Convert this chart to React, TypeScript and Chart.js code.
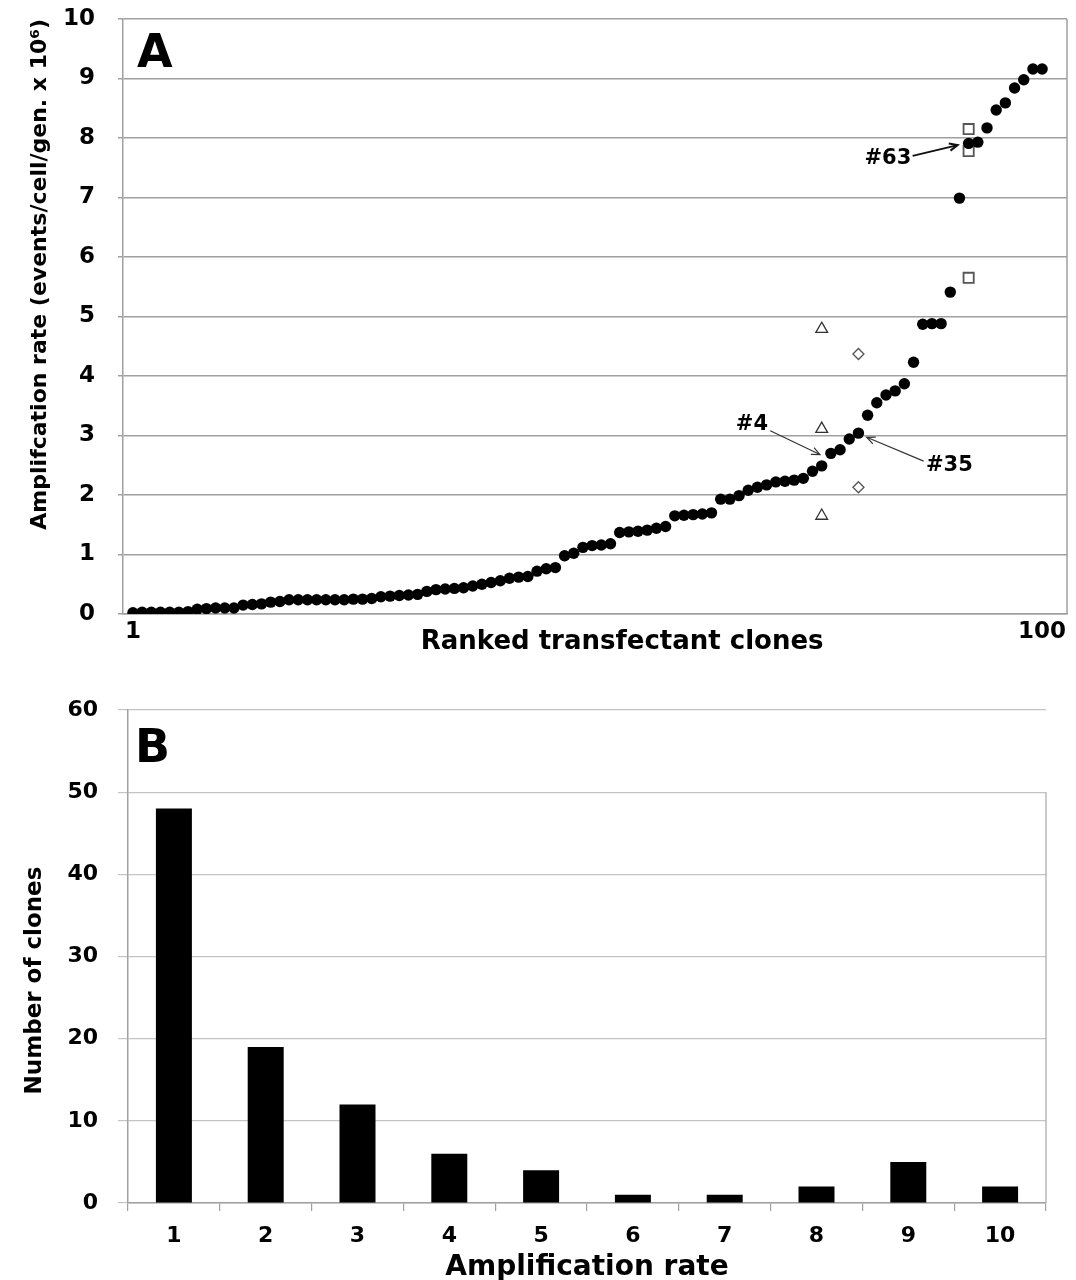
import React, { useEffect, useRef } from 'react';
import { Chart, registerables } from 'chart.js';

Chart.register(...registerables);

const FONT = "'DejaVu Sans', sans-serif";

// ---------- Panel A data ----------
// Amplification rate of the ranked transfectant clones (rank = index + 1)
const CLONE_RATES = [
  0.02, 0.03, 0.03, 0.03, 0.03, 0.03, 0.04, 0.08, 0.09, 0.10,
  0.10, 0.10, 0.15, 0.16, 0.17, 0.20, 0.21, 0.24, 0.24, 0.24,
  0.24, 0.24, 0.24, 0.24, 0.25, 0.25, 0.26, 0.29, 0.30, 0.31,
  0.32, 0.33, 0.38, 0.41, 0.42, 0.43, 0.44, 0.47, 0.50, 0.53,
  0.56, 0.60, 0.62, 0.63, 0.72, 0.76, 0.78, 0.98, 1.02, 1.12,
  1.15, 1.16, 1.18, 1.37, 1.38, 1.39, 1.41, 1.44, 1.47, 1.65,
  1.66, 1.67, 1.68, 1.70, 1.93, 1.93, 1.99, 2.08, 2.13, 2.17,
  2.22, 2.23, 2.25, 2.28, 2.40, 2.49, 2.70, 2.76, 2.94, 3.04,
  3.34, 3.55, 3.68, 3.75, 3.87, 4.23, 4.87, 4.88, 4.88, 5.41,
  6.99, 7.91, 7.93, 8.17, 8.47, 8.59, 8.84, 8.98, 9.16, 9.16,
];
const CLONE4_RANK = 76;
const CLONE4_REPLICATES = [4.79, 3.11, 1.65];
const CLONE35_RANK = 80;
const CLONE35_REPLICATES = [4.37, 2.13];
const CLONE63_RANK = 92;
const CLONE63_REPLICATES = [8.15, 7.78, 5.65];
const A_X_TICKS = [1, 100];
const A_Y_MIN = 0;
const A_Y_MAX = 10;

// ---------- Panel B data ----------
const B_BINS = ['1', '2', '3', '4', '5', '6', '7', '8', '9', '10'];
const B_COUNTS = [48, 19, 12, 6, 4, 1, 1, 2, 5, 2];
const B_Y_MAX = 60;

// callouts (in data units of panel A)
const A_CALLOUTS = [
  { label: '#4', lx: 68.4, ly: 3.18, x1: 70.4, y1: 3.08, x2: 75.8, y2: 2.68, lw: 1.2, color: '#333' },
  { label: '#35', lx: 89.9, ly: 2.5, x1: 87.1, y1: 2.57, x2: 80.9, y2: 2.97, lw: 1.2, color: '#333' },
  { label: '#63', lx: 83.2, ly: 7.66, x1: 85.9, y1: 7.7, x2: 90.8, y2: 7.88, lw: 2, color: '#111' },
];

function drawArrow(ctx: CanvasRenderingContext2D, x1: number, y1: number, x2: number, y2: number) {
  ctx.beginPath();
  ctx.moveTo(x1, y1);
  ctx.lineTo(x2, y2);
  ctx.stroke();
  const ang = Math.atan2(y2 - y1, x2 - x1);
  const L = 9;
  ctx.beginPath();
  ctx.moveTo(x2 - L * Math.cos(ang - 0.42), y2 - L * Math.sin(ang - 0.42));
  ctx.lineTo(x2, y2);
  ctx.lineTo(x2 - L * Math.cos(ang + 0.42), y2 - L * Math.sin(ang + 0.42));
  ctx.stroke();
}

const panelAPlugin = {
  id: 'panelADecor',
  afterDraw(chart: any) {
    const { ctx, chartArea, scales } = chart;
    ctx.save();
    // right frame line
    ctx.strokeStyle = '#a0a0a0';
    ctx.lineWidth = 1.5;
    ctx.beginPath();
    ctx.moveTo(chartArea.right, chartArea.top);
    ctx.lineTo(chartArea.right, chartArea.bottom);
    ctx.stroke();
    // panel letter
    ctx.fillStyle = '#000';
    ctx.font = `bold 46px ${FONT}`;
    ctx.textAlign = 'left';
    ctx.textBaseline = 'alphabetic';
    ctx.fillText('A', chartArea.left + 14, chartArea.top + 48);
    // callouts
    ctx.font = `bold 21px ${FONT}`;
    ctx.textAlign = 'center';
    ctx.textBaseline = 'middle';
    for (const c of A_CALLOUTS) {
      const sx = scales.x, sy = scales.y;
      ctx.fillStyle = '#000';
      ctx.fillText(c.label, sx.getPixelForValue(c.lx), sy.getPixelForValue(c.ly));
      ctx.strokeStyle = c.color;
      ctx.lineWidth = c.lw;
      drawArrow(
        ctx,
        sx.getPixelForValue(c.x1), sy.getPixelForValue(c.y1),
        sx.getPixelForValue(c.x2), sy.getPixelForValue(c.y2)
      );
    }
    ctx.restore();
  },
};

const panelBPlugin = {
  id: 'panelBDecor',
  afterDraw(chart: any) {
    const { ctx, chartArea, scales } = chart;
    ctx.save();
    ctx.strokeStyle = '#a8a8a8';
    ctx.lineWidth = 1.2;
    ctx.beginPath();
    ctx.moveTo(chartArea.right, scales.y.getPixelForValue(50));
    ctx.lineTo(chartArea.right, chartArea.bottom);
    ctx.stroke();
    ctx.fillStyle = '#000';
    ctx.font = `bold 46px ${FONT}`;
    ctx.textAlign = 'left';
    ctx.textBaseline = 'alphabetic';
    ctx.fillText('B', chartArea.left + 7, chartArea.top + 52);
    ctx.restore();
  },
};

export default function App() {
  const refA = useRef<HTMLCanvasElement>(null);
  const refB = useRef<HTMLCanvasElement>(null);

  useEffect(() => {
    const chartA = new Chart(refA.current as HTMLCanvasElement, {
      type: 'scatter',
      data: {
        datasets: [
          {
            data: CLONE_RATES.map((v, i) => ({ x: i + 1, y: v })),
            pointStyle: 'circle',
            pointRadius: 5.7,
            pointBackgroundColor: '#000',
            pointBorderColor: '#000',
            pointBorderWidth: 0,
          },
          {
            data: CLONE4_REPLICATES.map((v) => ({ x: CLONE4_RANK, y: v })),
            pointStyle: 'triangle',
            pointRadius: 6.8,
            pointBackgroundColor: 'rgba(255,255,255,0)',
            pointBorderColor: '#333',
            pointBorderWidth: 1.3,
          },
          {
            data: CLONE35_REPLICATES.map((v) => ({ x: CLONE35_RANK, y: v })),
            pointStyle: 'rectRot',
            pointRadius: 5.5,
            pointBackgroundColor: 'rgba(255,255,255,0)',
            pointBorderColor: '#555',
            pointBorderWidth: 1.3,
          },
          {
            data: CLONE63_REPLICATES.map((v) => ({ x: CLONE63_RANK, y: v })),
            pointStyle: 'rect',
            pointRadius: 7.2,
            pointBackgroundColor: 'rgba(255,255,255,0)',
            pointBorderColor: '#555',
            pointBorderWidth: 1.8,
          },
        ],
      },
      options: {
        animation: false,
        responsive: false,
        layout: { padding: { top: 19, right: 3, left: 0, bottom: 0 } },
        plugins: { legend: { display: false }, tooltip: { enabled: false } },
        scales: {
          x: {
            type: 'linear',
            min: -0.083,
            max: 102.71,
            afterBuildTicks: (s: any) => {
              s.ticks = A_X_TICKS.map((v) => ({ value: v }));
            },
            afterFit: (s: any) => {
              s.height = 46;
              s.paddingLeft = 0;
              s.paddingRight = 0;
            },
            grid: { display: false, drawTicks: false },
            border: { display: true, color: '#a0a0a0', width: 1.5 },
            ticks: {
              padding: 4,
              color: '#000',
              autoSkip: false,
              maxRotation: 0,
              font: { family: FONT, weight: 'bold', size: 23 },
            },
            title: {
              display: true,
              text: '      Ranked transfectant clones',
              color: '#000',
              padding: { top: 0, bottom: 2 },
              font: { family: FONT, weight: 'bold', size: 26 },
            },
          },
          y: {
            min: A_Y_MIN,
            max: A_Y_MAX,
            afterFit: (s: any) => {
              s.width = 123;
              s.paddingTop = 14;
              s.paddingBottom = 14;
            },
            grid: { color: '#a0a0a0', lineWidth: 1.5, tickLength: 5 },
            border: { color: '#a0a0a0', width: 1.5 },
            ticks: {
              stepSize: 1,
              padding: 23,
              color: '#000',
              font: { family: FONT, weight: 'bold', size: 23 },
            },
            title: {
              display: true,
              text: 'Amplifcation rate (events/cell/gen. x 10\u2076)',
              align: 'end',
              color: '#000',
              padding: { top: 27, bottom: 0 },
              font: { family: FONT, weight: 'bold', size: 22 },
            },
          },
        },
      },
      plugins: [panelAPlugin],
    } as any);

    const chartB = new Chart(refB.current as HTMLCanvasElement, {
      type: 'bar',
      data: {
        labels: B_BINS,
        datasets: [
          {
            data: B_COUNTS,
            backgroundColor: '#000',
            borderWidth: 0,
            barPercentage: 0.392,
            categoryPercentage: 1,
          },
        ],
      },
      options: {
        animation: false,
        responsive: false,
        layout: { padding: { top: 50, right: 30, left: 0, bottom: 0 } },
        plugins: { legend: { display: false }, tooltip: { enabled: false } },
        scales: {
          x: {
            afterFit: (s: any) => {
              s.height = 97;
              s.paddingLeft = 0;
              s.paddingRight = 0;
            },
            grid: {
              display: true,
              drawOnChartArea: false,
              offset: true,
              tickLength: 8,
              color: '#a0a0a0',
              lineWidth: 1.2,
            },
            border: { color: '#a0a0a0', width: 1.5 },
            ticks: {
              padding: 12,
              color: '#000',
              font: { family: FONT, weight: 'bold', size: 22 },
            },
            title: {
              display: true,
              text: 'Amplification rate',
              color: '#000',
              padding: { top: 0, bottom: 15 },
              font: { family: FONT, weight: 'bold', size: 28 },
            },
          },
          y: {
            min: 0,
            max: B_Y_MAX,
            afterFit: (s: any) => {
              s.width = 128;
              s.paddingTop = 14;
              s.paddingBottom = 14;
            },
            grid: { color: '#c4c4c4', lineWidth: 1.2, tickLength: 10 },
            border: { color: '#a0a0a0', width: 1.5 },
            ticks: {
              stepSize: 10,
              padding: 20,
              color: '#000',
              font: { family: FONT, weight: 'bold', size: 22 },
            },
            title: {
              display: true,
              text: 'Number of clones      ',
              color: '#000',
              padding: { top: 21, bottom: 0 },
              font: { family: FONT, weight: 'bold', size: 23 },
            },
          },
        },
      },
      plugins: [panelBPlugin],
    } as any);

    return () => {
      chartA.destroy();
      chartB.destroy();
    };
  }, []);

  return (
    <div
      style={{
        position: 'absolute',
        left: 0,
        top: 0,
        width: 1076,
        height: 1280,
        overflow: 'hidden',
        background: '#fff',
      }}
    >
      <canvas
        ref={refA}
        width={1076}
        height={660}
        style={{ position: 'absolute', left: 0, top: 0, width: 1076, height: 660 }}
      />
      <canvas
        ref={refB}
        width={1076}
        height={640}
        style={{ position: 'absolute', left: 0, top: 660, width: 1076, height: 640 }}
      />
    </div>
  );
}
